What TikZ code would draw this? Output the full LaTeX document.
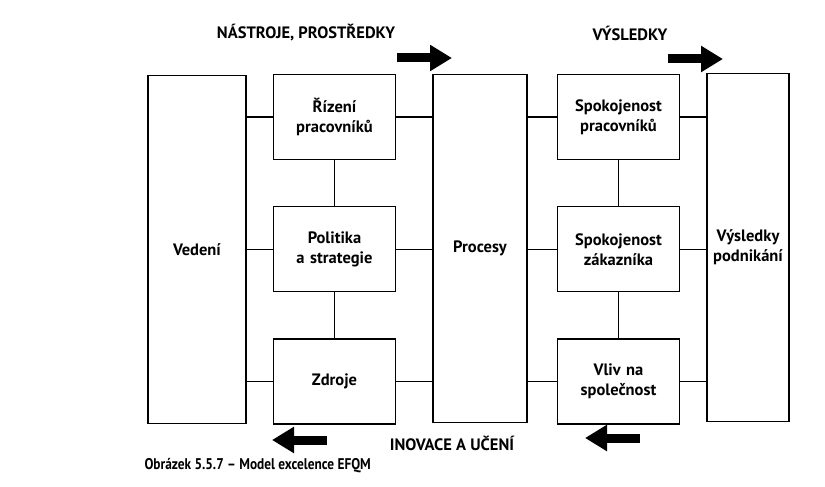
\documentclass[tikz,border=0pt]{standalone}
\usepackage{fontspec}
\setmainfont{PT Sans}
\newfontfamily\captfont[FakeStretch=0.86]{PT Sans}
\usepackage{xcolor}
\usetikzlibrary{positioning}
\usetikzlibrary{arrows.meta}

\begin{document}
\begin{tikzpicture}[
		x=1pt, y=-1pt,
		node distance=46pt and 30pt,
		every node/.style={font=\bfseries\fontsize{16.5}{20}\selectfont},
		bigbox/.style={rectangle, draw, line width=1.3pt, minimum height=348pt, inner sep=0pt},
		smallbox/.style={rectangle, draw, line width=1.3pt, text width=118pt, align=center, minimum height=85pt, inner sep=2pt},
		link/.style={line width=1.2pt},
		flow/.style={line width=9pt, -{Triangle[length=22pt, width=25pt]}}
		]
		\useasboundingbox (0,0) rectangle (825,487);
		
		% Big columns
		\node[bigbox, minimum width=98pt] (veden) at (197,249.5) {Vedení};
		\node[bigbox, minimum width=94pt] (procesy) at (480,248.5) {Procesy};
		\node[bigbox, minimum width=82pt, align=center] (vysledky) at (748,247.5) {Výsledky\\podnikání};
		
		% Enablers
		\node[smallbox] (rizeni) at (334.5,117) {Řízení\\pracovníků};
		\node[smallbox, below=of rizeni] (politika) {Politika\\a strategie};
		\node[smallbox, below=of politika] (zdroje) {Zdroje};
		
		% Results
		\node[smallbox] (spokprac) at (618.5,117) {Spokojenost\\pracovníků};
		\node[smallbox, below=of spokprac] (spokzak) {Spokojenost\\zákazníka};
		\node[smallbox, below=of spokzak] (vliv) {Vliv na\\společnost};
		
		% Headings
		\node (nastroje) at (306,33) {NÁSTROJE, PROSTŘEDKY};
		\node (vysl) at (630,33) {VÝSLEDKY};
		\node (inovace) at (452,443) {INOVACE A UČENÍ};
		\node[anchor=west, font=\captfont\bfseries\fontsize{15.5}{17}\selectfont] (popis) at (141,466) {Obrázek 5.5.7 – Model excelence EFQM};
		
		% Horizontal links
		\foreach \n in {rizeni,politika,zdroje} {
			\draw[link] (\n.west) -- (\n.west -| veden.east);
			\draw[link] (\n.east) -- (\n.east -| procesy.west);
		}
		\foreach \n in {spokprac,spokzak,vliv} {
			\draw[link] (\n.west) -- (\n.west -| procesy.east);
			\draw[link] (\n.east) -- (\n.east -| vysledky.west);
		}
		
		% Vertical links
		\draw[link] (rizeni) -- (politika);
		\draw[link] (politika) -- (zdroje);
		\draw[link] (spokprac) -- (spokzak);
		\draw[link] (spokzak) -- (vliv);
		
		% Big arrows
		\coordinate (t1s) at (397,58);
		\coordinate (t1e) at (452,58);
		\coordinate (t2s) at (668,59);
		\coordinate (t2e) at (723,59);
		\coordinate (b1s) at (327,440);
		\coordinate (b1e) at (272,440);
		\coordinate (b2s) at (640,438);
		\coordinate (b2e) at (585,438);
		\draw[flow] (t1s) -- (t1e);
		\draw[flow] (t2s) -- (t2e);
		\draw[flow] (b1s) -- (b1e);
		\draw[flow] (b2s) -- (b2e);
		
	\end{tikzpicture}
\end{document}
